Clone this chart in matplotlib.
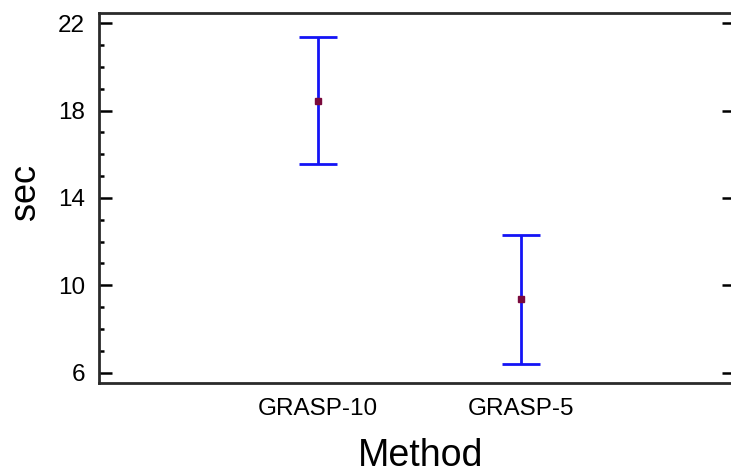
import matplotlib.pyplot as plt
from matplotlib.ticker import MultipleLocator

plt.rcParams['font.family'] = ['Liberation Sans', 'DejaVu Sans']

methods = ['GRASP-10', 'GRASP-5']
means = [18.45, 9.38]
lower = [15.56, 6.41]
upper = [21.36, 12.30]

fig = plt.figure(figsize=(7.31, 4.73), dpi=100)
# right spine sits just past the image edge in the reference
ax = fig.add_axes([0.1354, 0.1909, 0.870, 0.7816])

xs = list(range(1, len(methods) + 1))
err_lo = [m - l for m, l in zip(means, lower)]
err_hi = [u - m for m, u in zip(means, upper)]

ax.errorbar(xs, means, yerr=[err_lo, err_hi], fmt='none', ecolor='#1414f5',
            elinewidth=2, capsize=14, capthick=2, zorder=2)
ax.plot(xs, means, 's', color='#7a0a3c', markersize=4.5, zorder=3)

ax.set_xlim(-0.079, 3.054)
ax.set_ylim(5.54, 22.47)

ax.set_xticks(xs)
ax.set_xticklabels(methods)
ax.yaxis.set_major_locator(MultipleLocator(4))
ax.yaxis.set_minor_locator(MultipleLocator(1))
ax.set_yticks([6, 10, 14, 18, 22])

ax.tick_params(axis='x', length=0, labelsize=17.5, pad=11)
ax.tick_params(axis='y', which='major', direction='in', length=9.5, width=1.8,
               labelsize=17.5, pad=10, right=True)
ax.tick_params(axis='y', which='minor', direction='in', length=3.8, width=1.8)

for s in ax.spines.values():
    s.set_linewidth(2)
    s.set_color('#2a2a2a')

ax.set_xlabel('Method', fontsize=27)
ax.set_ylabel('sec', fontsize=26)
ax.xaxis.set_label_coords(0.505, -0.15)
ax.yaxis.set_label_coords(-0.088, 0.516)

fig.savefig('out.png', dpi=100)
